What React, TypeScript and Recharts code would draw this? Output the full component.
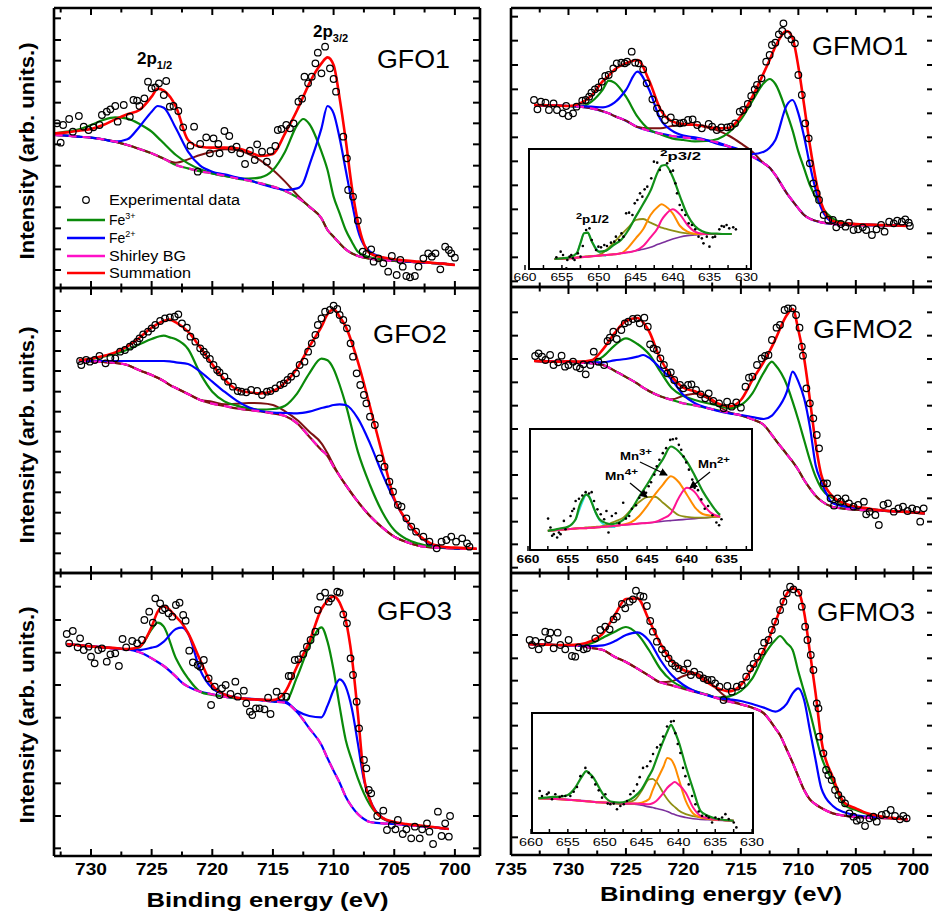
import React from 'react';
import { ComposedChart, Line, Scatter, XAxis, YAxis } from 'recharts';

const FONT = '"Liberation Sans", Arial, Helvetica, sans-serif';

// ---------------- GFO1 ----------------
const gfo1E = [733,732,731,730,729,728,727,726,725,724.5,724,723,722,721,720,719,718,717,716,715,714,713,712.5,712,711,710.5,710,709.5,709,708.5,708,707,706,705,704,703,702,701,700];
const gfo1Sum = [600,603,608,613,625,642,657,670,710,734,728,680,580,560,557,557,555,545,532,538,600,670,710,750,810,828,805,705,580,440,335,240,228,222,218,215,212,209,205];
const gfo1Fe3 = [600,605,612,625,640,648,644,628,605,588,570,535,510,492,480,472,466,464,468,490,545,625,643,628,545,490,410,360,310,275,245,228,222,219,216,213,211,209,205];
const gfo1Fe2 = [595,593,590,587,582,575,582,620,665,682,677,615,545,503,485,477,468,460,448,438,430,435,452,504,615,682,660,585,490,395,310,245,228,220,216,213,211,209,205];
const gfo1Bg = [595,593,590,587,582,575,565,553,540,532,524,505,495,486,480,473,465,458,450,440,427,408,395,380,345,310,290,270,252,240,232,224,220,217,215,213,211,209,205];
const gfo1Sat = [595,593,590,587,582,575,565,553,540,532,524,512,522,535,545,552,550,538,518,490,455,415,397,380,345,310,290,270,252,240,232,224,220,217,215,213,211,209,205];
const gfo1Exp = [[732.8,630],[732.5,572],[732.3,625],[731.8,643],[731.5,605],[731.0,652],[730.6,620],[730.2,610],[729.8,618],[729.3,625],[729.1,655],[728.7,665],[728.4,672],[728.0,682],[727.8,635],[727.3,685],[726.8,650],[726.5,700],[726.2,698],[726.0,682],[725.6,705],[725.3,755],[725.0,735],[724.7,738],[724.4,750],[724.0,715],[723.8,757],[723.5,680],[723.2,682],[722.8,667],[722.4,618],[721.8,563],[721.5,620],[721.2,485],[721.0,568],[720.5,588],[720.2,540],[719.9,585],[719.5,568],[719.4,540],[719.0,607],[718.6,592],[718.4,552],[718.0,560],[717.7,540],[717.3,508],[716.9,548],[716.5,520],[716.3,567],[715.9,545],[715.5,515],[715.2,547],[714.8,562],[714.6,610],[714.3,613],[713.9,625],[713.6,615],[713.3,630],[712.9,695],[712.6,704],[712.4,770],[712.1,750],[711.8,770],[711.5,810],[711.3,842],[711.0,780],[710.7,860],[710.3,795],[710.0,763],[709.8,725],[709.2,590],[708.9,525],[708.8,430],[708.4,410],[708.0,338],[707.6,245],[707.3,238],[706.9,252],[706.7,215],[706.3,225],[705.9,210],[705.5,185],[705.2,232],[704.8,175],[704.5,220],[704.3,200],[704.0,172],[703.7,168],[703.3,172],[703.0,200],[702.6,225],[702.2,240],[701.9,230],[701.6,240],[701.2,192],[700.8,260],[700.5,250],[700.3,240],[700.0,227]];

// ---------------- GFO2 ----------------
const gfo2E = [731,730,729,728,727,726,725,724,723.5,723,722,721,720,719,718,717,716,715,714,713,712,711,710.5,710,709.5,709,708,707,706,705,704,703,702,701,700,699,698.2];
const gfo2Sum = [775,779,787,798,816,842,872,892,896,888,860,813,762,717,687,678,675,682,707,750,815,875,912,927,905,875,770,635,495,360,295,250,225,215,212,210,209];
const gfo2Fe3 = [774,778,785,794,806,822,838,848,843,837,808,735,680,651,638,630,626,628,638,675,735,779,774,748,700,642,500,400,320,265,238,224,216,212,210,209,208];
const gfo2Fe2 = [772,772,772,772,772,772,772,772,771,768,763,740,710,680,653,633,622,617,616,615,620,631,635,640,642,640,600,525,435,355,292,250,222,213,210,209,208];
const gfo2Bg = [772,771,769,766,760,744,730,712,700,691,673,655,644,637,630,625,621,615,607,585,545,505,487,455,427,400,350,307,273,245,229,218,213,211,210,208,208];
const gfo2Sat = [772,771,769,766,760,744,730,712,700,691,673,655,650,642,644,646,645,640,621,595,560,525,495,460,427,400,350,307,273,245,229,218,213,211,210,208,208];
const gfo2Exp = [[730.9,772],[730.8,760],[730.4,775],[730.1,770],[729.7,775],[729.3,787],[728.8,765],[728.4,782],[728.0,780],[727.6,800],[727.2,805],[726.8,815],[726.5,822],[726.2,830],[726.0,840],[725.7,852],[725.3,860],[725.0,870],[724.7,880],[724.3,892],[723.9,900],[723.5,903],[723.1,905],[722.8,912],[722.5,885],[722.1,872],[721.8,845],[721.4,830],[721.0,810],[720.7,800],[720.5,790],[720.2,778],[719.9,760],[719.6,745],[719.4,738],[719.0,725],[718.7,710],[718.3,695],[717.9,682],[717.6,680],[717.2,678],[716.8,685],[716.3,682],[715.9,670],[715.5,680],[715.2,682],[714.8,690],[714.4,700],[714.1,705],[713.8,715],[713.5,725],[713.1,735],[712.8,760],[712.4,770],[712.1,800],[711.8,825],[711.5,850],[711.3,880],[711.0,900],[710.7,920],[710.3,925],[710.0,938],[709.7,928],[709.5,910],[709.2,895],[708.9,870],[708.6,825],[708.4,785],[708.1,735],[707.8,700],[707.5,670],[707.3,645],[707.0,605],[706.6,580],[706.2,480],[705.8,455],[705.4,410],[705.1,380],[704.7,340],[704.4,335],[704.0,300],[703.6,275],[703.2,260],[702.6,245],[702.1,230],[701.5,210],[701.1,230],[700.7,235],[700.3,245],[699.9,230],[699.4,240],[699.0,225],[698.8,215]];

// ---------------- GFO3 ----------------
const gfo3E = [732,731,730,729,728,727,726,725,724.5,724,723,722.5,722,721,720,719,718,717,716,715,714,713,712,711,710.5,710,709.5,709,708.5,708,707.5,707,706,705,704,703,702,701,700.5];
const gfo3Sum = [748,744,741,738,736,733,740,800,845,862,830,810,781,700,625,597,587,583,581,580,604,682,755,853,878,891,872,820,710,540,350,280,227,214,208,204,200,195,193];
const gfo3Fe3 = [748,744,741,738,735,732,738,792,812,800,705,672,645,605,595,590,585,582,580,577,575,650,742,798,755,670,560,460,400,345,300,265,225,212,206,202,199,195,193];
const gfo3Fe2 = [748,744,741,738,735,732,730,737,742,755,793,797,780,670,615,597,587,584,581,578,575,547,532,528,563,610,642,620,555,450,340,280,228,212,206,202,199,195,193];
const gfo3Bg = [748,744,741,738,734,732,723,705,694,682,650,632,620,605,597,590,585,582,579,575,572,543,495,445,405,368,332,290,260,238,223,214,210,208,205,202,199,195,193];
const gfo3Exp = [[732.0,778],[731.8,750],[731.5,787],[731.1,738],[730.9,765],[730.6,730],[730.2,740],[730.0,710],[729.7,690],[729.4,730],[729.1,735],[728.7,695],[728.4,717],[728.0,720],[727.7,682],[727.4,763],[727.1,738],[726.6,757],[726.2,750],[725.8,760],[725.6,820],[725.2,845],[724.9,812],[724.7,885],[724.3,870],[724.1,850],[723.9,855],[723.6,840],[723.3,830],[723.0,865],[722.7,872],[722.4,835],[722.2,818],[721.9,728],[721.6,693],[721.2,685],[721.0,680],[720.7,700],[720.3,645],[720.1,565],[719.8,620],[719.4,595],[719.2,615],[718.9,625],[718.5,598],[718.1,635],[717.9,590],[717.4,608],[717.2,570],[716.9,545],[716.7,535],[716.4,555],[716.1,555],[715.7,552],[715.4,587],[715.2,538],[714.7,605],[714.3,590],[713.9,590],[713.7,652],[713.5,652],[713.2,700],[712.9,702],[712.5,718],[712.2,740],[711.9,760],[711.5,785],[711.3,850],[711.1,890],[710.7,902],[710.4,875],[710.2,885],[709.7,905],[709.5,902],[709.2,837],[708.9,810],[708.6,705],[708.4,655],[708.1,575],[707.9,495],[707.5,400],[707.3,375],[707.1,310],[706.9,300],[706.4,232],[705.9,248],[705.6,190],[705.2,205],[704.9,192],[704.7,220],[704.3,178],[704.0,192],[703.6,165],[703.3,200],[702.9,165],[702.7,192],[702.3,210],[702.1,185],[701.8,148],[701.4,245],[701.1,172],[700.8,210],[700.5,170],[700.4,232]];

// ---------------- GFMO1 ----------------
const gfmo1E = [733,732,731,730,729,728,727,726.5,726,725,724,723,722,721,720,719,718,717,716,715,714,713,712.5,712,711,710.5,710,709.5,709,708,707,706,705,704,703,702,701,700.5];
const gfmo1Sum = [685,684,683,682,690,713,757,773,791,810,820,760,672,636,628,626,620,615,617,652,710,782,820,860,907,885,800,685,565,390,337,330,328,326,325,324,323,322];
const gfmo1Fe3 = [685,684,683,682,680,695,732,758,752,710,650,612,597,585,580,576,577,583,604,641,697,751,763,748,660,608,545,495,445,380,344,332,328,326,325,324,323,322];
const gfmo1Fe2 = [685,684,683,682,681,680,678,682,692,730,785,732,642,608,593,588,580,568,560,550,538,545,557,580,685,700,660,590,505,375,334,330,328,326,325,324,323,322];
const gfmo1Bg = [685,684,683,682,680,675,666,660,652,638,619,608,599,592,588,584,579,572,560,547,530,510,497,475,420,397,375,355,344,333,328,325,325,324,324,323,323,322];
const gfmo1Sat = [685,684,683,682,680,675,666,660,652,638,619,615,615,622,625,625,618,608,592,570,545,510,497,475,420,397,375,355,344,333,328,325,325,324,324,323,323,322];
const gfmo1Exp = [[733.0,700],[732.7,672],[732.4,695],[732.0,692],[731.7,670],[731.3,690],[731.0,670],[730.5,660],[730.2,682],[730.0,652],[729.6,660],[729.3,680],[728.8,698],[728.5,700],[728.2,710],[728.0,722],[727.7,732],[727.4,738],[727.1,755],[726.8,772],[726.5,775],[726.1,795],[725.8,810],[725.4,812],[725.1,810],[724.9,815],[724.5,845],[724.2,812],[723.9,810],[723.5,792],[723.2,750],[722.7,702],[722.3,675],[722.0,660],[721.6,640],[721.1,648],[720.7,632],[720.3,630],[720.0,632],[719.6,640],[719.2,642],[718.8,625],[718.4,615],[717.8,628],[717.5,620],[717.1,610],[716.7,618],[716.2,618],[715.9,620],[715.5,630],[715.1,665],[714.8,670],[714.4,688],[714.1,712],[713.8,732],[713.6,745],[713.2,765],[712.8,815],[712.5,835],[712.3,865],[712.0,872],[711.7,897],[711.4,907],[711.3,930],[710.9,895],[710.6,882],[710.3,870],[710.0,775],[709.7,715],[709.4,630],[709.1,585],[709.0,510],[708.7,450],[708.4,420],[708.2,400],[707.8,355],[707.4,340],[707.0,340],[706.7,318],[706.3,328],[705.9,320],[705.6,332],[705.2,310],[704.8,312],[704.4,318],[704.1,310],[703.6,295],[703.2,312],[702.8,325],[702.5,305],[702.1,335],[701.7,330],[701.4,338],[701.0,335],[700.7,342],[700.4,332],[700.3,322]];

// ---------------- GFMO2 ----------------
const gfmo2E = [733,732,731,730,729,728,727,726,725,724,723.5,723,722,721,720,719,718,717,716,715,714,713,712.3,712,711,710.5,710,709.5,709,708.5,708,707,706,705,704,703,702,701,700,699];
const gfmo2Sum = [772,771,770,771,770,774,807,855,892,901,888,862,778,725,692,681,667,645,636,655,715,770,815,837,910,928,865,780,657,525,430,365,345,335,330,325,322,320,318,315];
const gfmo2Fe3 = [772,771,770,770,769,769,785,818,840,823,810,793,740,690,667,655,646,639,630,640,675,738,770,760,700,650,595,535,475,425,390,360,340,332,328,325,322,320,318,315];
const gfmo2Fe2 = [772,771,770,770,769,768,768,774,778,785,790,782,750,715,670,645,632,622,615,610,604,598,608,620,680,740,710,660,575,460,410,345,336,331,328,325,322,320,318,315];
const gfmo2Bg = [772,771,770,769,767,765,760,743,724,704,692,682,666,655,645,639,631,624,616,609,597,580,550,536,492,470,445,415,390,368,352,334,329,326,324,323,321,320,318,315];
const gfmo2Sat = [772,771,770,769,767,765,760,743,724,704,692,682,666,657,668,674,662,638,618,609,597,580,550,536,492,470,445,415,390,368,352,334,329,326,324,323,321,320,318,315];
const gfmo2Exp = [[732.9,787],[732.6,795],[732.3,785],[732.0,775],[731.6,790],[731.3,760],[730.9,768],[730.6,788],[730.3,755],[730.0,760],[729.6,770],[729.3,755],[729.0,750],[728.7,762],[728.5,732],[728.1,760],[727.8,800],[727.4,770],[726.9,760],[726.6,832],[726.4,842],[726.1,860],[725.8,838],[725.4,865],[725.1,885],[724.8,890],[724.4,898],[724.0,900],[723.8,885],[723.4,902],[723.1,875],[722.9,822],[722.6,810],[722.3,805],[722.0,780],[721.7,760],[721.4,735],[721.1,738],[720.8,715],[720.3,700],[720.0,690],[719.6,700],[719.3,702],[718.9,685],[718.5,672],[718.1,660],[717.8,675],[717.4,652],[716.9,645],[716.5,630],[716.2,650],[715.8,635],[715.4,648],[715.0,632],[714.6,695],[714.3,722],[714.0,725],[713.6,760],[713.2,780],[712.9,787],[712.6,790],[712.3,835],[711.9,872],[711.6,880],[711.2,925],[710.9,930],[710.5,930],[710.2,910],[709.9,872],[709.7,815],[709.6,788],[709.3,690],[709.0,645],[708.7,600],[708.4,550],[708.2,510],[707.8,405],[707.5,405],[707.2,360],[706.9,338],[706.6,360],[706.3,350],[705.9,360],[705.6,345],[705.2,335],[704.8,340],[704.3,350],[704.1,312],[703.8,320],[703.3,310],[703.0,280],[702.6,340],[702.2,345],[701.7,320],[701.3,330],[700.9,335],[700.5,322],[700.1,330],[699.7,325],[699.4,290],[699.1,330]];

// ---------------- GFMO3 ----------------
const gfmo3E = [733.5,733,732,731,730,729,728,727,726,725,724,723,722,721,720,719,718,717,716,715,714,713,712,711.6,711,710.5,710,709.5,709,708.5,708,707,706,705,704,703,702,701,700.5];
const gfmo3Sum = [748,747,746,745,745,747,757,780,833,883,885,820,749,696,670,659,634,615,606,625,676,730,814,850,899,915,905,843,725,600,460,348,272,255,240,232,227,223,222];
const gfmo3Fe3 = [748,747,746,745,744,742,750,767,784,799,778,730,673,637,618,607,597,587,591,607,645,713,760,772,750,730,665,605,545,475,410,335,265,250,238,230,226,223,222];
const gfmo3Fe2 = [748,747,746,745,744,743,742,744,756,775,783,758,700,654,625,606,595,586,582,577,568,557,545,550,569,600,615,580,490,400,315,262,243,234,230,228,226,223,222];
const gfmo3Bg = [748,747,746,745,744,742,736,730,710,694,674,653,633,624,614,604,596,585,575,567,557,540,495,475,430,392,350,310,282,267,256,240,233,229,227,226,225,223,222];
const gfmo3Sat = [748,747,746,745,744,742,736,730,710,694,674,653,633,636,652,660,642,610,582,567,557,540,495,475,430,392,350,310,282,267,256,240,233,229,227,226,225,223,222];
const gfmo3Exp = [[733.38,760],[733.17,745],[732.88,757],[732.59,732],[732.31,752],[732.02,785],[731.73,762],[731.58,782],[731.29,735],[730.94,782],[730.71,745],[730.28,732],[729.99,760],[729.70,712],[729.41,710],[729.12,738],[728.68,732],[728.39,735],[727.67,765],[727.23,790],[726.80,800],[726.42,792],[726.08,822],[725.79,830],[725.35,868],[725.06,855],[724.68,875],[724.39,882],[724.13,908],[723.76,892],[723.47,890],[723.18,862],[722.89,817],[722.66,785],[722.31,755],[721.87,732],[721.58,720],[721.29,705],[721.00,690],[720.71,682],[720.42,675],[719.99,670],[719.64,690],[719.35,655],[719.06,665],[718.60,655],[718.25,645],[717.90,640],[717.53,640],[717.24,630],[716.86,620],[716.51,580],[716.17,622],[715.79,605],[715.35,620],[714.92,625],[714.54,650],[714.19,675],[713.90,688],[713.56,710],[713.18,725],[712.98,752],[712.60,760],[712.31,790],[712.02,815],[711.59,850],[711.30,875],[711.01,900],[710.72,920],[710.43,912],[709.99,902],[709.70,860],[709.41,800],[709.21,760],[708.92,715],[708.69,670],[708.40,570],[708.25,555],[708.17,470],[707.82,420],[707.59,370],[707.39,355],[707.10,340],[706.81,310],[706.52,295],[706.23,282],[705.94,270],[705.56,240],[705.21,230],[704.92,218],[704.63,222],[704.20,202],[703.82,225],[703.47,230],[703.18,215],[702.75,235],[702.37,238],[701.97,250],[701.59,232],[701.16,222],[700.87,232],[700.58,225]];

// ---------------- Insets (Mn 2p) ----------------
const inDE = [656,655,654,653,652.5,652,651.5,651,650,649,648,647,646,645,644,643,642,641.5,641,640,639,638,637,636,635,634,633,632];
const inDEnv = [223,225,228,240,270,300,302,278,245,248,265,280,310,350,388,428,485,503,505,470,410,355,322,306,300,299,298,298];
const inDMn4 = [223,224,226,228,229,230,231,232,235,250,272,295,318,340,343,332,322,317,314,308,303,300,298,298,298,298,298,298];
const inDMn3 = [223,224,225,227,228,229,230,231,233,235,237,240,258,285,312,355,380,387,382,360,322,305,299,298,298,298,298,298];
const inDMn2 = [223,224,225,227,228,229,230,231,233,235,237,240,243,248,262,288,317,340,355,372,356,325,305,299,298,298,298,298];
const inDBg = [223,224,225,227,228,229,230,231,233,235,237,240,243,248,252,258,267,271,275,283,289,293,295,297,298,298,298,298];
const inDCyE = [654,653,652.5,652,651.5,651,650.5,650,649.5,649];
const inDCy = [226,240,270,300,302,278,260,245,235,232];
const inDDots = [[655.75,228],[655.17,245],[654.85,235],[654.40,195],[654.27,220],[653.96,230],[653.73,235],[653.51,225],[653.29,220],[652.84,240],[652.48,230],[652.17,262],[651.72,310],[651.27,315],[650.96,280],[650.38,250],[650.06,260],[649.70,258],[649.26,265],[648.90,262],[648.36,272],[647.91,275],[647.69,290],[647.24,280],[646.93,300],[646.66,290],[646.30,360],[645.90,362],[645.45,355],[645.14,390],[644.78,400],[644.42,420],[644.11,410],[643.80,432],[643.44,440],[642.90,465],[642.54,515],[642.09,512],[641.74,490],[641.38,535],[640.75,510],[640.30,485],[639.95,488],[639.63,450],[639.41,420],[639.05,385],[638.74,370],[638.29,355],[637.84,330],[637.39,325],[636.95,312],[636.50,290],[636.05,285],[635.83,270],[635.38,290],[635.02,260],[634.57,288],[634.26,290],[633.68,312],[633.37,322],[633.05,320],[632.70,325],[632.34,315],[631.80,318],[631.44,312]];

const inEE = [657.5,657,656,655,654,653.5,653,652.7,652.3,652,651.5,651,650.5,650,649.5,649,648,647,646,645,644,643,642,641,640,639,638,637,636,635.8];
const inEEnv = [260,262,267,272,295,337,362,370,363,347,317,295,287,282,280,282,293,323,363,400,440,477,515,500,470,427,380,343,312,308];
const inEMn4 = [260,261,263,265,267,268,269,270,270,271,272,273,275,279,284,289,300,325,347,362,363,345,325,307,302,300,300,301,303,303];
const inEMn3 = [260,261,263,265,267,268,268,268,269,269,270,271,272,273,274,275,279,286,305,335,370,400,425,407,370,332,311,306,303,303];
const inEMn2 = [260,261,263,265,267,268,268,268,269,269,270,271,272,273,274,275,278,280,282,284,287,297,313,360,390,377,342,315,304,303];
const inEBg = [260,261,263,265,267,268,268,268,269,269,270,271,272,273,274,275,278,280,282,284,286,289,291,293,295,297,299,301,303,303];
const inECyE = [654,653.5,653,652.7,652.3,652,651.5,651,650.5,650,649.5,649];
const inECy = [293,325,355,369,365,349,315,292,280,273,271,271];
const inEDots = [[657.47,297],[657.17,270],[656.96,245],[656.75,250],[656.33,240],[656.11,255],[655.90,250],[655.48,290],[655.27,265],[654.64,305],[654.43,320],[654.21,327],[654.00,350],[653.58,357],[653.16,367],[652.74,377],[652.31,373],[651.98,377],[651.68,350],[651.26,325],[650.84,310],[650.41,295],[650.12,320],[649.86,255],[649.44,305],[648.94,313],[648.51,283],[648.01,345],[647.67,297],[647.25,305],[646.91,327],[646.40,337],[645.98,360],[645.56,375],[645.13,375],[644.80,395],[644.50,407],[644.08,430],[643.78,455],[643.45,475],[643.02,495],[642.60,510],[642.09,535],[641.76,537],[641.33,539],[641.00,520],[640.70,505],[640.41,485],[640.07,467],[639.73,445],[639.31,415],[639.01,390],[638.59,383],[638.17,355],[637.74,327],[637.32,335],[636.77,307],[636.27,285],[635.93,277],[635.63,295]];

const inFE = [659,658,657,656,655,654,653,652.5,652,651.5,651,650,649,648,647,646,645,644,643.5,643,642,641.5,641,640.5,640,639,638,637,636,635,634,633,632.5];
const inFEnv = [283,285,287,288,293,315,352,365,357,345,325,288,272,270,274,287,310,350,370,400,459,485,505,485,457,380,310,245,230,222,218,216,215];
const inFMn4 = [283,282,281,280,278,277,275,274,273,272,271,270,268,267,270,277,305,340,342,333,297,280,267,257,247,235,229,225,222,219,217,216,215];
const inFMn3 = [283,282,281,280,278,277,275,274,273,272,271,270,269,268,267,267,270,280,307,333,380,405,400,380,345,275,237,225,221,218,217,216,215];
const inFMn2 = [283,282,281,280,278,277,275,274,273,272,271,270,269,268,267,267,266,265,268,275,300,315,325,332,325,300,255,230,223,219,217,216,215];
const inFBg = [283,282,281,281,280,278,276,275,274,273,272,270,268,266,265,265,262,257,255,252,247,243,238,234,230,225,221,219,218,217,216,215,215];
const inFDots = [[658.82,305],[658.51,290],[657.83,295],[657.60,300],[657.15,280],[656.70,295],[656.11,287],[655.79,290],[655.34,290],[654.66,290],[654.21,303],[653.76,317],[653.30,350],[652.62,375],[652.17,360],[651.72,347],[651.27,325],[650.81,307],[650.36,285],[649.91,295],[649.59,267],[649.23,265],[648.78,267],[648.33,250],[647.87,260],[647.42,265],[646.97,275],[646.52,295],[646.06,305],[645.61,325],[645.25,347],[644.80,375],[644.25,380],[643.80,395],[643.44,417],[642.90,437],[642.44,445],[642.08,470],[641.54,500],[641.00,515],[640.63,517],[640.41,480],[640.09,447],[639.73,420],[639.37,375],[639.05,350],[638.60,325],[638.14,290],[637.69,265],[637.24,243],[636.79,230],[636.20,230],[635.88,225],[635.43,210],[634.98,225],[634.52,220],[634.07,225],[633.62,235],[633.17,220],[632.49,210],[632.13,195]];

// ---------------- ticks ----------------
const leftXTicks = [732.5,730,727.5,725,722.5,720,717.5,715,712.5,710,707.5,705,702.5,700];
const rightXTicks = [735,732.5,730,727.5,725,722.5,720,717.5,715,712.5,710,707.5,705,702.5,700];
const insetTicks = [660,657.5,655,652.5,650,647.5,645,642.5,640,637.5,635,632.5,630];
const insetTicksE = [660,657.5,655,652.5,650,647.5,645,642.5,640,637.5,635,632.5];
const yTicksA = [945,880,818,755,692,630,567,503,440,378,315,252,190];
const yTicksB = [922,862,802,742,680,620,560,500,438,378,317,255,195];
const yTicksC = [920,820,722,625,527,428,330,232,135];
const yTicksD = [950,878,805,732,660,588,516,444,372,300,228,156];
const yTicksE = [918,848,778,708,638,568,500,430,360,290,222,152];
const yTicksF = [908,842,775,705,638,570,503,435,368,300,232,168];

// ---------------- helpers ----------------
const zip = (es: number[], vs: number[]) => es.map((e, i) => ({ e, v: vs[i] }));
const pts = (p: number[][]) => p.map(([e, v]) => ({ e, v }));

const RED = '#ff0000', GREEN = '#0a8a0a', BLUE = '#0000ff', MAG = '#ff10c8', BROWN = '#7d1212';

type S = { data: { e: number; v: number }[]; color: string; w: number; dash?: string };

function mainSeries(E: number[], sum: number[], fe3: number[], fe2: number[], bg: number[], under: string, sat?: number[]): S[] {
  const out: S[] = [];
  out.push({ data: zip(E, bg), color: under, w: 2.2 });
  if (sat) out.push({ data: zip(E, sat), color: BROWN, w: 2 });
  out.push({ data: zip(E, fe3), color: GREEN, w: 2.2 });
  out.push({ data: zip(E, fe2), color: BLUE, w: 2.2 });
  out.push({ data: zip(E, bg), color: MAG, w: 2.2, dash: '8 6' });
  out.push({ data: zip(E, sum), color: RED, w: 2.6 });
  return out;
}

const M = 30;
const AX = { stroke: '#000', strokeWidth: 2.6 };

const isMajor = (v: number) => Math.abs(v - Math.round(v / 5) * 5) < 1e-6;

function bottomTick(labels: boolean, dy: number) {
  return (p: any) => {
    const v = p.payload.value;
    const mj = isMajor(v);
    return (
      <g>
        <line x1={p.x} x2={p.x} y1={p.y} y2={p.y - (mj ? 7 : 4.5)} stroke="#000" strokeWidth={2} />
        {labels && mj ? (
          <text x={p.x} y={p.y + dy} textAnchor="middle" fontSize={17} fontWeight="bold" fontFamily={FONT} fill="#000" textLength={32} lengthAdjust="spacingAndGlyphs">{v}</text>
        ) : null}
      </g>
    );
  };
}
const topTick = (p: any) => {
  const mj = isMajor(p.payload.value);
  return <line x1={p.x} x2={p.x} y1={p.y} y2={p.y + (mj ? 7 : 4.5)} stroke="#000" strokeWidth={2} />;
};
const leftTick = (p: any) => <line x1={p.x} x2={p.x + 7} y1={p.y} y2={p.y} stroke="#000" strokeWidth={2} />;
const rightTick = (p: any) => <line x1={p.x} x2={p.x - 7} y1={p.y} y2={p.y} stroke="#000" strokeWidth={2} />;

const openCircle = (p: any) => <circle cx={p.cx} cy={p.cy} r={3.3} fill="none" stroke="#000" strokeWidth={1.2} />;
const smallDot = (p: any) => <circle cx={p.cx} cy={p.cy} r={1.3} fill="#000" />;

function Panel(props: {
  left: number; top: number; width: number; height: number;
  xDomain: number[]; yDomain: number[]; xTicks: number[]; yTicks: number[];
  labels: boolean; labelDy: number; series: S[]; exp: number[][];
}) {
  const { left, top, width, height, xDomain, yDomain, xTicks, yTicks, labels, labelDy, series, exp } = props;
  const mm = M - 1;
  return (
    <div style={{ position: 'absolute', left: left - M, top: top - M }}>
      <ComposedChart width={width + 2 * M} height={height + 2 * M} margin={{ top: mm, right: mm, bottom: mm, left: mm }}>
        <XAxis xAxisId="b" dataKey="e" type="number" domain={xDomain} reversed allowDataOverflow ticks={xTicks} interval={0}
          height={1} tickSize={0} tickMargin={0} tickLine={false} axisLine={AX} tick={bottomTick(labels, labelDy)} />
        <XAxis xAxisId="t" orientation="top" dataKey="e" type="number" domain={xDomain} reversed allowDataOverflow ticks={xTicks} interval={0}
          height={1} tickSize={0} tickMargin={0} tickLine={false} axisLine={AX} tick={topTick} />
        <YAxis yAxisId="l" dataKey="v" type="number" domain={yDomain} allowDataOverflow ticks={yTicks} interval={0}
          width={1} tickSize={0} tickMargin={0} tickLine={false} axisLine={AX} tick={leftTick} />
        <YAxis yAxisId="r" orientation="right" dataKey="v" type="number" domain={yDomain} allowDataOverflow ticks={yTicks} interval={0}
          width={1} tickSize={0} tickMargin={0} tickLine={false} axisLine={AX} tick={rightTick} />
        <Scatter xAxisId="b" yAxisId="l" data={pts(exp)} dataKey="v" shape={openCircle} isAnimationActive={false} />
        {series.map((s, i) => (
          <Line key={i} xAxisId="b" yAxisId="l" data={s.data} dataKey="v" type="monotone" stroke={s.color} strokeWidth={s.w}
            strokeDasharray={s.dash} dot={false} activeDot={false} isAnimationActive={false} />
        ))}
      </ComposedChart>
    </div>
  );
}

function insetTick(fs: number, bold: boolean, dy: number, tl: number) {
  return (p: any) => {
    const v = p.payload.value;
    const mj = isMajor(v);
    return (
      <g>
        <line x1={p.x} x2={p.x} y1={p.y} y2={p.y - 5} stroke="#000" strokeWidth={1.5} />
        {mj ? (
          <text x={p.x} y={p.y + dy} textAnchor="middle" fontSize={fs} fontWeight={bold ? 'bold' : 'normal'} fontFamily={FONT} fill="#000"
            textLength={tl} lengthAdjust="spacingAndGlyphs">{v}</text>
        ) : null}
      </g>
    );
  };
}

const OLIVE = '#8f8f14', ORANGE = '#ff8c00', PINK = '#ff1493', PURPLE = '#7b2f9c', CYAN = '#30e0e0', IGREEN = '#12901a';

function Inset(props: {
  box: number[]; left: number; top: number; width: number; height: number;
  xDomain: number[]; yDomain: number[]; ticks: number[]; tick: any;
  series: S[]; dots: number[][];
}) {
  const { box, left, top, width, height, xDomain, yDomain, ticks, tick, series, dots } = props;
  const m = 20;
  return (
    <>
      <div style={{ position: 'absolute', left: box[0], top: box[1], width: box[2] - box[0], height: box[3] - box[1], background: '#fff', border: '2px solid #000', boxSizing: 'border-box' }} />
      <div style={{ position: 'absolute', left: left - m, top: top - m }}>
        <ComposedChart width={width + 2 * m} height={height + 2 * m} margin={{ top: m, right: m, bottom: m - 1, left: m }}>
          <XAxis xAxisId="b" dataKey="e" type="number" domain={xDomain} reversed allowDataOverflow ticks={ticks} interval={0}
            height={1} tickSize={0} tickMargin={0} tickLine={false} axisLine={false} tick={tick} />
          <YAxis yAxisId="l" dataKey="v" type="number" domain={yDomain} allowDataOverflow hide width={0} />
          <Scatter xAxisId="b" yAxisId="l" data={pts(dots)} dataKey="v" shape={smallDot} isAnimationActive={false} />
          {series.map((s, i) => (
            <Line key={i} xAxisId="b" yAxisId="l" data={s.data} dataKey="v" type="monotone" stroke={s.color} strokeWidth={s.w}
              dot={false} activeDot={false} isAnimationActive={false} />
          ))}
        </ComposedChart>
      </div>
    </>
  );
}

const T = (p: any) => <text fontFamily={FONT} fill="#000" {...p} />;

export default function App() {
  const LX = { left: 54, width: 426, xDomain: [697.93, 733.05], xTicks: leftXTicks };
  const RX = { left: 511, width: 423, xDomain: [698.2, 735], xTicks: rightXTicks };
  return (
    <div style={{ position: 'absolute', left: 0, top: 0, width: 932, height: 915, overflow: 'hidden', background: '#fff', fontFamily: FONT }}>
      <Panel {...LX} top={8} height={280} yDomain={[136, 976]} yTicks={yTicksA} labels={false} labelDy={19}
        series={mainSeries(gfo1E, gfo1Sum, gfo1Fe3, gfo1Fe2, gfo1Bg, GREEN, gfo1Sat)} exp={gfo1Exp} />
      <Panel {...LX} top={288} height={285} yDomain={[136, 991]} yTicks={yTicksB} labels={false} labelDy={19}
        series={mainSeries(gfo2E, gfo2Sum, gfo2Fe3, gfo2Fe2, gfo2Bg, BROWN, gfo2Sat)} exp={gfo2Exp} />
      <Panel {...LX} top={573} height={283} yDomain={[112, 961]} yTicks={yTicksC} labels={true} labelDy={19}
        series={mainSeries(gfo3E, gfo3Sum, gfo3Fe3, gfo3Fe2, gfo3Bg, BLUE)} exp={gfo3Exp} />
      <Panel {...RX} top={8} height={279} yDomain={[139, 976]} yTicks={yTicksD} labels={false} labelDy={20}
        series={mainSeries(gfmo1E, gfmo1Sum, gfmo1Fe3, gfmo1Fe2, gfmo1Bg, BLUE, gfmo1Sat)} exp={gfmo1Exp} />
      <Panel {...RX} top={287} height={286} yDomain={[136, 994]} yTicks={yTicksE} labels={false} labelDy={20}
        series={mainSeries(gfmo2E, gfmo2Sum, gfmo2Fe3, gfmo2Fe2, gfmo2Bg, GREEN, gfmo2Sat)} exp={gfmo2Exp} />
      <Panel {...RX} top={573} height={282} yDomain={[115, 961]} yTicks={yTicksF} labels={true} labelDy={20}
        series={mainSeries(gfmo3E, gfmo3Sum, gfmo3Fe3, gfmo3Fe2, gfmo3Bg, BROWN, gfmo3Sat)} exp={gfmo3Exp} />

      <Inset box={[528, 148, 752, 270]} left={525.3} top={148} width={226.7} height={122} xDomain={[629.3, 660]} yDomain={[190, 556]}
        ticks={insetTicks} tick={insetTick(11, false, 11.5, 23)} dots={inDDots}
        series={[
          { data: zip(inDCyE, inDCy), color: CYAN, w: 1.6 },
          { data: zip(inDE, inDBg), color: PURPLE, w: 1.6 },
          { data: zip(inDE, inDMn4), color: OLIVE, w: 1.8 },
          { data: zip(inDE, inDMn3), color: ORANGE, w: 2 },
          { data: zip(inDE, inDMn2), color: PINK, w: 2 },
          { data: zip(inDE, inDEnv), color: IGREEN, w: 2.2 },
        ]} />
      <Inset box={[529, 428, 753, 551]} left={528} top={428} width={225} height={123} xDomain={[631.66, 660]} yDomain={[199, 571]}
        ticks={insetTicksE} tick={insetTick(11.5, true, 12, 23)} dots={inEDots}
        series={[
          { data: zip(inEE, inEBg), color: PURPLE, w: 1.6 },
          { data: zip(inECyE, inECy), color: CYAN, w: 1.8 },
          { data: zip(inEE, inEMn4), color: OLIVE, w: 1.8 },
          { data: zip(inEE, inEMn3), color: ORANGE, w: 2 },
          { data: zip(inEE, inEMn2), color: PINK, w: 2 },
          { data: zip(inEE, inEEnv), color: IGREEN, w: 2.2 },
        ]} />
      <Inset box={[531, 712, 754, 834]} left={530.7} top={712} width={223.3} height={122} xDomain={[629.7, 660]} yDomain={[175, 544]}
        ticks={insetTicks} tick={insetTick(11, false, 12, 24)} dots={inFDots}
        series={[
          { data: zip(inFE, inFBg), color: PURPLE, w: 1.6 },
          { data: zip(inFE, inFMn4), color: OLIVE, w: 1.8 },
          { data: zip(inFE, inFMn3), color: ORANGE, w: 2 },
          { data: zip(inFE, inFMn2), color: PINK, w: 2 },
          { data: zip(inFE, inFEnv), color: IGREEN, w: 2.2 },
        ]} />

      <svg width={932} height={915} style={{ position: 'absolute', left: 0, top: 0, pointerEvents: 'none' }}>
        <defs>
          <marker id="ah" markerWidth="8" markerHeight="8" refX="7" refY="4" orient="auto" markerUnits="userSpaceOnUse">
            <path d="M0,0 L8,4 L0,8 z" fill="#000" />
          </marker>
        </defs>
        {[151, 435, 715].map((cy) => (
          <T key={cy} transform={`translate(27,${cy}) rotate(-90)`} textAnchor="middle" dominantBaseline="central" fontSize={20}
            fontWeight="bold" textLength={217} lengthAdjust="spacingAndGlyphs">Intensity (arb. units.)</T>
        ))}
        <T x={267.5} y={907} textAnchor="middle" fontSize={20} fontWeight="bold" textLength={242} lengthAdjust="spacingAndGlyphs">Binding energy (eV)</T>
        <T x={721} y={901} textAnchor="middle" fontSize={20} fontWeight="bold" textLength={242} lengthAdjust="spacingAndGlyphs">Binding energy (eV)</T>

        <T x={377} y={68} fontSize={25} textLength={73} lengthAdjust="spacingAndGlyphs">GFO1</T>
        <T x={373} y={343} fontSize={25} textLength={74} lengthAdjust="spacingAndGlyphs">GFO2</T>
        <T x={377} y={620} fontSize={25} textLength={75} lengthAdjust="spacingAndGlyphs">GFO3</T>
        <T x={812} y={55} fontSize={25} textLength={96} lengthAdjust="spacingAndGlyphs">GFMO1</T>
        <T x={813} y={338} fontSize={25} textLength={100} lengthAdjust="spacingAndGlyphs">GFMO2</T>
        <T x={817} y={621} fontSize={25} textLength={98} lengthAdjust="spacingAndGlyphs">GFMO3</T>

        <T x={137} y={64} fontSize={17} fontWeight="bold">2p<tspan fontSize={11} dy={5}>1/2</tspan></T>
        <T x={313} y={37} fontSize={17} fontWeight="bold">2p<tspan fontSize={11} dy={5}>3/2</tspan></T>

        <circle cx={86} cy={200} r={3.3} fill="none" stroke="#000" strokeWidth={1.2} />
        <T x={109} y={204.5} fontSize={14} textLength={131} lengthAdjust="spacingAndGlyphs">Experimental data</T>
        <line x1={67} x2={105} y1={220} y2={220} stroke={GREEN} strokeWidth={2.5} />
        <T x={109} y={224.5} fontSize={14}>Fe<tspan fontSize={9} dy={-6}>3+</tspan></T>
        <line x1={67} x2={105} y1={238} y2={238} stroke={BLUE} strokeWidth={2.5} />
        <T x={109} y={242.5} fontSize={14}>Fe<tspan fontSize={9} dy={-6}>2+</tspan></T>
        <line x1={67} x2={105} y1={256} y2={256} stroke={MAG} strokeWidth={2.5} />
        <T x={109} y={260.5} fontSize={14} textLength={77} lengthAdjust="spacingAndGlyphs">Shirley BG</T>
        <line x1={67} x2={105} y1={273} y2={273} stroke={RED} strokeWidth={2.5} />
        <T x={109} y={277.5} fontSize={14} textLength={82} lengthAdjust="spacingAndGlyphs">Summation</T>

        <T x={660} y={160} fontSize={11} fontWeight="bold" textLength={41} lengthAdjust="spacingAndGlyphs"><tspan fontSize={9} dy={-4}>2</tspan><tspan dy={4}>p3/2</tspan></T>
        <T x={576} y={222.7} fontSize={11} fontWeight="bold" textLength={33} lengthAdjust="spacingAndGlyphs"><tspan fontSize={9} dy={-4}>2</tspan><tspan dy={4}>p1/2</tspan></T>

        <T x={620} y={460} fontSize={10.5} fontWeight="bold" textLength={32} lengthAdjust="spacingAndGlyphs">Mn<tspan fontSize={9} dy={-5}>3+</tspan></T>
        <T x={605} y={480} fontSize={10.5} fontWeight="bold" textLength={33} lengthAdjust="spacingAndGlyphs">Mn<tspan fontSize={9} dy={-5}>4+</tspan></T>
        <T x={698} y={468} fontSize={10.5} fontWeight="bold" textLength={32} lengthAdjust="spacingAndGlyphs">Mn<tspan fontSize={9} dy={-5}>2+</tspan></T>
        <line x1={630} y1={483} x2={647} y2={497} stroke="#000" strokeWidth={1.3} markerEnd="url(#ah)" />
        <line x1={640} y1={462} x2={667} y2={475} stroke="#000" strokeWidth={1.3} markerEnd="url(#ah)" />
        <line x1={710} y1={472} x2={690} y2={488} stroke="#000" strokeWidth={1.3} markerEnd="url(#ah)" />
      </svg>
    </div>
  );
}
